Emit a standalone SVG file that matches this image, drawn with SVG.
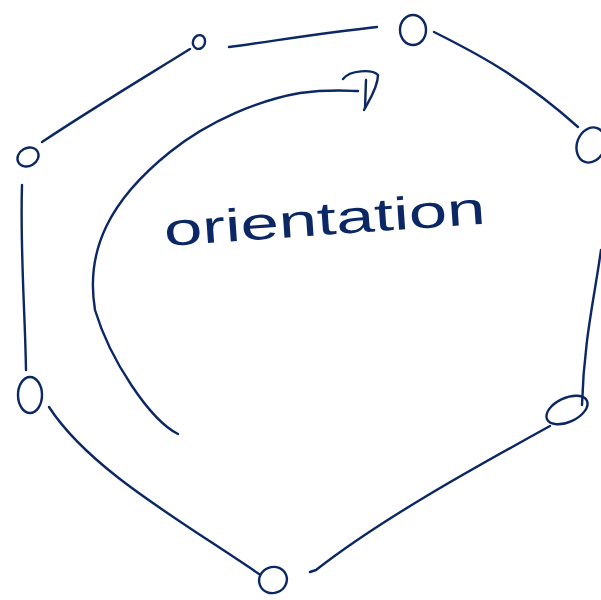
<svg xmlns="http://www.w3.org/2000/svg" width="601" height="600" viewBox="0 0 601 600">
<style>
.s{fill:none;stroke:#0b2764;stroke-width:2.4;stroke-linecap:round;stroke-linejoin:round}
.t{font-family:"Liberation Sans","DejaVu Sans",sans-serif;fill:#0b2764}
</style>
<rect width="601" height="600" fill="#fff"/>
<g id="connectors" class="s">
<path d="M229,47 C280,40 330,32 377,27"/>
<path d="M434,32 C470,50 520,75 578,127"/>
<path d="M601,250 C594,300 584,340 582,405"/>
<path d="M550,426 C470,470 380,520 316,570 L310,572"/>
<path d="M259,574 C180,520 90,470 49,407"/>
<path d="M22,185 C20,250 25,310 26,370"/>
<path d="M42,142 C90,110 140,80 190,49"/>
</g>
<g id="arrow" class="s">
<path d="M178,434 C150,420 110,360 95,310 C85,250 110,200 170,152 C210,120 260,100 300,93 C330,89 350,91 358,91"/>
<path d="M343,79 C350,70 372,69 378,75 C378,88 368,102 364,110"/>
<path d="M366,80 L365,108"/>
</g>
<g id="n1" class="s"><ellipse cx="199" cy="42" rx="6" ry="7" transform="rotate(20 199 42)"/></g>
<g id="n2" class="s"><ellipse cx="413" cy="30" rx="13" ry="15"/></g>
<g id="n3" class="s"><ellipse cx="591" cy="145" rx="14" ry="18" transform="rotate(20 591 145)"/></g>
<g id="n4" class="s"><ellipse cx="567" cy="410" rx="22" ry="12" transform="rotate(-25 567 410)"/></g>
<g id="n5" class="s"><ellipse cx="273" cy="580" rx="14" ry="13" transform="rotate(-20 273 580)"/></g>
<g id="n6" class="s"><ellipse cx="30" cy="395" rx="12" ry="18"/></g>
<g id="n7" class="s"><ellipse cx="28" cy="157" rx="11" ry="9" transform="rotate(-30 28 157)"/></g>
<text class="t" x="165" y="246" font-size="46" textLength="322" lengthAdjust="spacingAndGlyphs" transform="rotate(-4 165 246)">orientation</text>
</svg>
